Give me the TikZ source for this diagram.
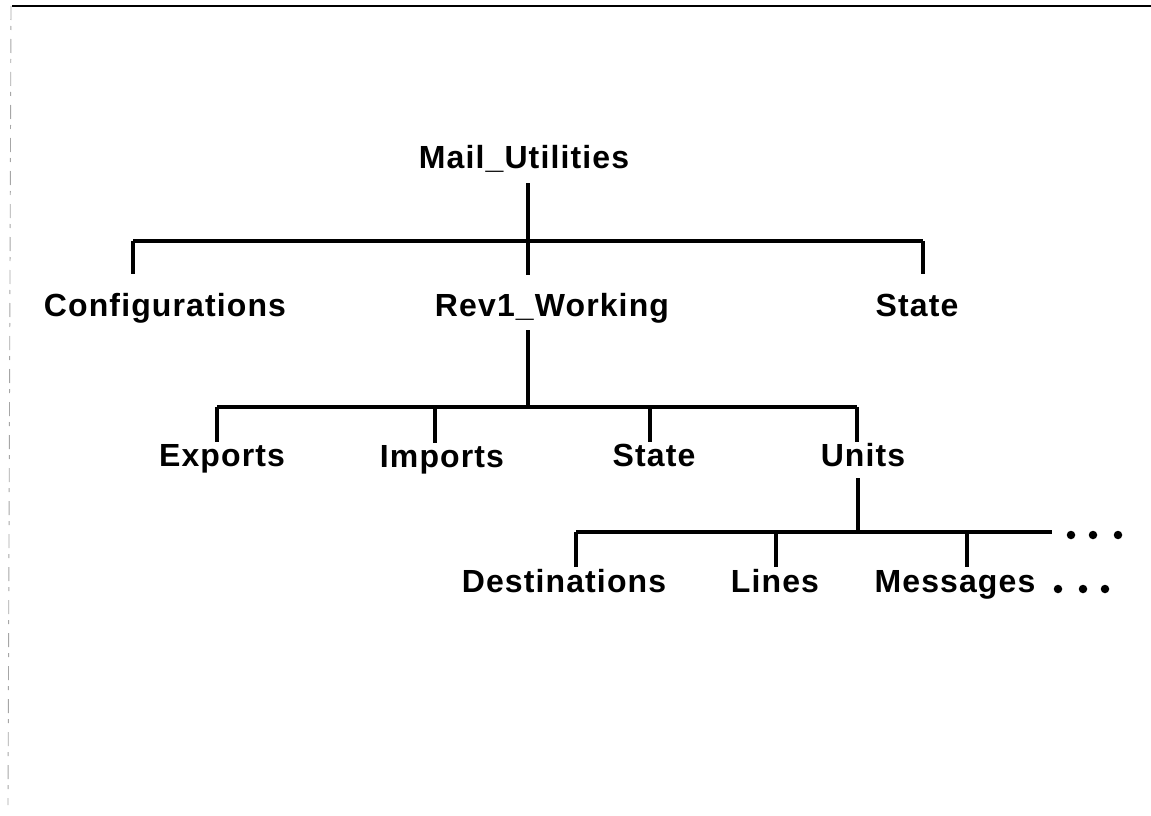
\documentclass[tikz,border=0pt]{standalone}
\usepackage{fontspec}
\usetikzlibrary{calc}
\newfontfamily\treefont{Liberation Sans}[LetterSpace=3.5]
\begin{document}
\begin{tikzpicture}[x=1pt,y=-1pt,
  lbl/.style={inner sep=0pt, anchor=base,
    font=\treefont\bfseries\fontsize{32}{37}\selectfont,
    text height=22pt, text depth=6pt},
  tree/.style={line width=3.2pt, line cap=butt},
  dotmark/.style={circle, fill=black, inner sep=0pt, minimum size=8.5pt}]
\useasboundingbox (0,0) rectangle (1151,816);

% frame edges
\draw[line width=2pt] (12,6) -- (1151,6);
\draw[gray!70, line width=0.9pt, dash pattern=on 14pt off 6pt on 4pt off 9pt] (11,6) -- (8,805);

% labels
\node[lbl] (mu)  at (524,168) {Mail\_Utilities};
\node[lbl] (cf)  at (165,316) {Configurations};
\node[lbl] (rw)  at (552,316) {Rev1\_Working};
\node[lbl] (st1) at (917,316) {State};
\node[lbl] (ex)  at (222,466) {Exports};
\node[lbl] (im)  at (442,467) {Imports};
\node[lbl] (st2) at (654,466) {State};
\node[lbl] (un)  at (863,466) {Units};
\node[lbl] (de)  at (564,592) {Destinations};
\node[lbl] (li)  at (775,592) {Lines};
\node[lbl] (me)  at (955,592) {Messages};

% continuation dots
\node[dotmark] (ba) at (1071,535) {};
\node[dotmark] (bb) at (1093,535) {};
\node[dotmark] (bc) at (1118,535) {};
\node[dotmark] (ma) at (1058,589) {};
\node[dotmark] (mb) at (1083,589) {};
\node[dotmark] (mc) at (1105,589) {};

% level 1
\coordinate (j1)  at (528,241);
\coordinate (b1l) at (133,241);
\coordinate (b1r) at (923,241);
\draw[tree] (b1l) -- (b1r);
\draw[tree] ($(mu.south -| j1)+(0,9)$) -- ($(rw.north -| j1)+(0,-19)$);
\draw[tree] (b1l) -- ($(cf.north -| b1l)+(0,-20)$);
\draw[tree] (b1r) -- ($(st1.north -| b1r)+(0,-20)$);

% level 2
\coordinate (j2)  at (528,407);
\coordinate (b2l) at (217,407);
\coordinate (b2r) at (857,407);
\coordinate (t2a) at (435,407);
\coordinate (t2b) at (650,407);
\draw[tree] ($(rw.south -| j2)+(0,8)$) -- (j2);
\draw[tree] (b2l) -- (b2r);
\draw[tree] (b2l) -- ($(ex.north -| b2l)+(0,-2)$);
\draw[tree] (t2a) -- ($(im.north -| t2a)+(0,-2)$);
\draw[tree] (t2b) -- ($(st2.north -| t2b)+(0,-2)$);
\draw[tree] (b2r) -- ($(un.north -| b2r)+(0,-2)$);

% level 3
\coordinate (j3)  at (858,532);
\coordinate (b3l) at (576,532);
\coordinate (b3r) at (1052,532);
\coordinate (t3a) at (776,532);
\coordinate (t3b) at (967,532);
\draw[tree] ($(un.south -| j3)+(0,6)$) -- (j3);
\draw[tree] (b3l) -- (b3r);
\draw[tree] (b3l) -- ($(de.north -| b3l)+(0,-3)$);
\draw[tree] (t3a) -- ($(li.north -| t3a)+(0,-3)$);
\draw[tree] (t3b) -- ($(me.north -| t3b)+(0,-3)$);
\end{tikzpicture}
\end{document}
